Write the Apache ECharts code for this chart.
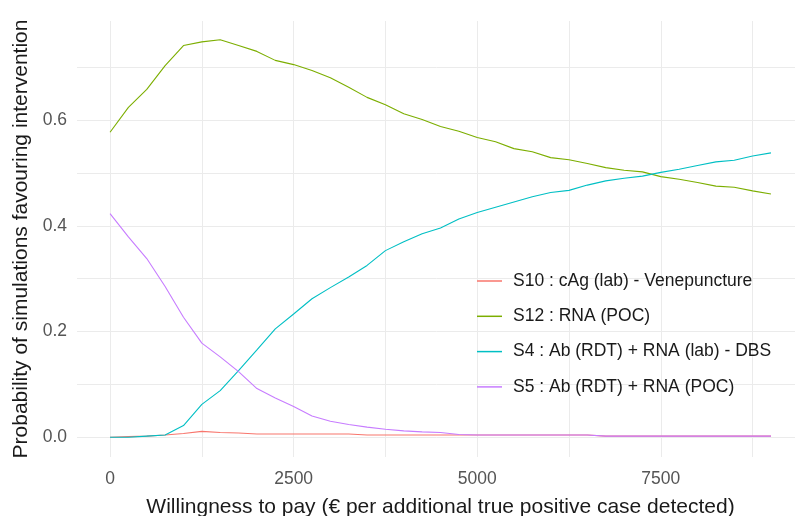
<!DOCTYPE html>
<html>
<head>
<meta charset="utf-8">
<script src="https://cdn.jsdelivr.net/npm/echarts@6/dist/echarts.min.js"></script>
<style>html,body{margin:0;padding:0;background:#fff}#chart{width:795px;height:516px}</style>
</head>
<body>
<div id="chart"></div>
<script>
// Willingness to pay (x), step 250
const wtp = [0,250,500,750,1000,1250,1500,1750,2000,2250,2500,2750,3000,3250,3500,3750,4000,4250,4500,4750,5000,5250,5500,5750,6000,6250,6500,6750,7000,7250,7500,7750,8000,8250,8500,8750,9000];

const seriesNames = ["S10 : cAg (lab) - Venepuncture","S12 : RNA (POC)","S4 : Ab (RDT) + RNA (lab) - DBS","S5 : Ab (RDT) + RNA (POC)"];

const s10 = [0.000,0.001,0.002,0.004,0.007,0.011,0.009,0.008,0.006,0.006,0.006,0.006,0.006,0.006,0.004,0.004,0.004,0.004,0.004,0.004,0.004,0.004,0.004,0.004,0.004,0.004,0.004,0.002,0.002,0.002,0.002,0.002,0.002,0.002,0.002,0.002,0.002];
const s12 = [0.577,0.624,0.658,0.703,0.741,0.748,0.752,0.741,0.730,0.713,0.705,0.694,0.680,0.662,0.643,0.629,0.612,0.601,0.588,0.579,0.567,0.559,0.546,0.540,0.529,0.525,0.518,0.510,0.505,0.502,0.493,0.488,0.482,0.475,0.473,0.466,0.460];
const s4  = [0.000,0.000,0.002,0.004,0.022,0.062,0.088,0.126,0.165,0.205,0.233,0.262,0.283,0.303,0.325,0.353,0.370,0.385,0.396,0.413,0.425,0.435,0.445,0.455,0.463,0.467,0.477,0.485,0.490,0.494,0.501,0.507,0.514,0.521,0.524,0.532,0.538];
const s5  = [0.423,0.379,0.338,0.285,0.227,0.178,0.152,0.124,0.092,0.074,0.058,0.040,0.030,0.024,0.019,0.015,0.012,0.010,0.009,0.005,0.004,0.004,0.004,0.004,0.004,0.004,0.004,0.002,0.002,0.002,0.002,0.002,0.002,0.002,0.002,0.002,0.002];

const xTickLabels = [0,2500,5000,7500];
const xGrid = [0,1250,2500,3750,5000,6250,7500,8750];
const yTickLabels = [0,0.2,0.4,0.6];
const yGrid = [0,0.1,0.2,0.3,0.4,0.5,0.6,0.7];

const colors = ['#F8766D','#7CAE00','#00BFC4','#C77CFF'];
const allValues = [s10,s12,s4,s5];

const FONT = 'Liberation Sans, Arial, sans-serif';

const chart = echarts.init(document.getElementById('chart'), null, {renderer:'canvas'});
chart.setOption({
  backgroundColor:'#fff',
  animation:false,
  color: colors,
  grid:{left:77, top:21, width:727, height:436, containLabel:false, outerBoundsMode:'none'},
  xAxis:{
    type:'value', min:-450, max:9450,
    name:'Willingness to pay (€ per additional true positive case detected)',
    nameLocation:'middle', nameGap:40,
    nameTextStyle:{fontFamily:FONT, fontSize:21, color:'#1a1a1a'},
    axisLine:{show:false}, axisTick:{show:false, customValues:xGrid},
    axisLabel:{customValues:xTickLabels, fontFamily:FONT, fontSize:17.5, color:'#555', margin:13,
      formatter:v=>String(v)},
    splitLine:{show:true, lineStyle:{color:'#ebebeb', width:1}}
  },
  yAxis:{
    type:'value', min:-0.0375, max:0.7875,
    name:'Probability of simulations favouring intervention',
    nameLocation:'middle', nameGap:42,
    nameTextStyle:{fontFamily:FONT, fontSize:21, color:'#1a1a1a'},
    axisLine:{show:false}, axisTick:{show:false, customValues:yGrid},
    axisLabel:{customValues:yTickLabels, fontFamily:FONT, fontSize:17.5, color:'#555', margin:10,
      formatter:v=>Number(v).toFixed(1)},
    splitLine:{show:true, lineStyle:{color:'#ebebeb', width:1}}
  },
  legend:{
    orient:'vertical', left:472, top:267,
    icon:'rect', itemWidth:25, itemHeight:1.5, itemGap:17.3,
    textStyle:{fontFamily:FONT, fontSize:17.5, color:'#1a1a1a', padding:[0,0,0,6]},
    data: seriesNames
  },
  series: seriesNames.map((n,i)=>({
    name:n, type:'line', symbol:'none', showSymbol:false,
    lineStyle:{width:1.1, color:colors[i]},
    itemStyle:{color:colors[i]},
    data: wtp.map((x,j)=>[x, allValues[i][j]]),
    z: 2+i
  }))
});
</script>
</body>
</html>
